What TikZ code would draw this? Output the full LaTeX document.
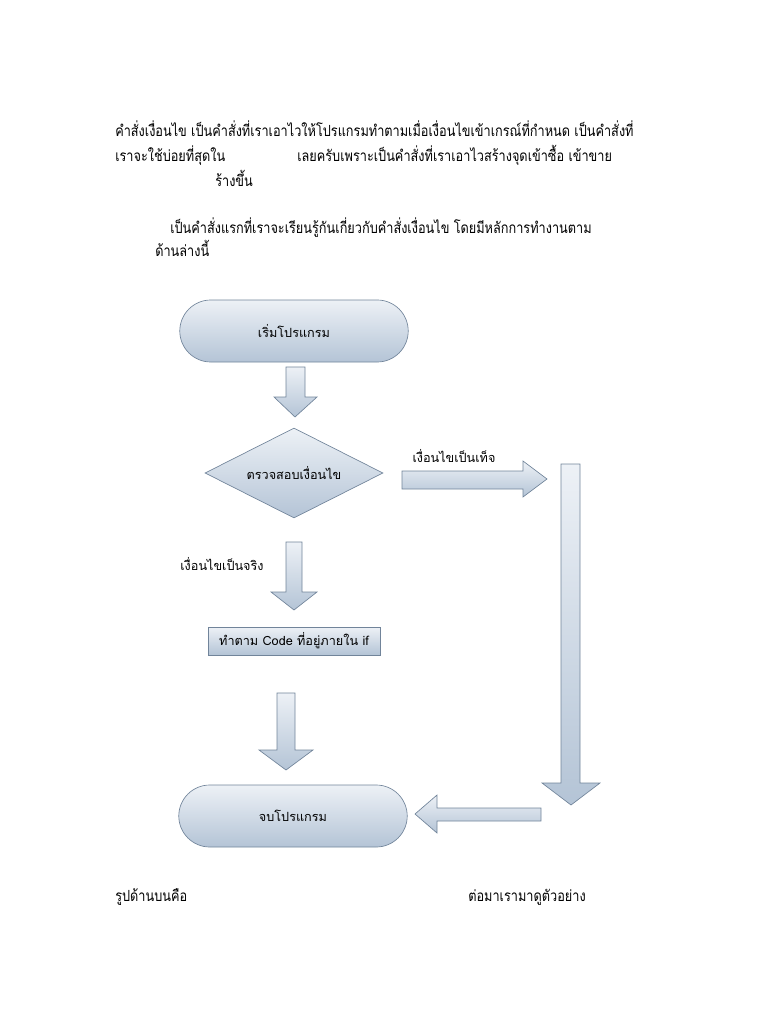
\documentclass[tikz,border=0pt]{standalone}
\usepackage{fontspec}
\setmainfont{Liberation Serif}
\newfontfamily\thaifont[Script=Thai]{Loma}
\newfontfamily\thaibody[Script=Thai, FakeStretch=0.83]{Loma}
\usetikzlibrary{shapes.geometric,shapes.misc}
\definecolor{boxtop}{HTML}{EDF1F6}
\definecolor{boxbot}{HTML}{B4C4D6}
\definecolor{boxline}{HTML}{71849A}
\begin{document}
\begin{tikzpicture}[x=0.75pt, y=-0.75pt,
    bodytext/.style={anchor=base west, inner sep=0pt, font=\thaibody\fontsize{11.5}{14}\selectfont},
    labeltext/.style={font=\thaifont\fontsize{9.5}{11}\selectfont},
    shaded box/.style={draw=boxline, top color=boxtop, bottom color=boxbot, line width=0.5pt},
    terminal/.style={shaded box, rounded rectangle, minimum width=178pt, minimum height=46.5pt, labeltext},
    decision/.style={shaded box, diamond, aspect=2, minimum width=133.5pt, minimum height=67.5pt, inner sep=0pt, labeltext},
    process/.style={shaded box, rectangle, minimum width=129pt, minimum height=21pt, inner sep=0pt, labeltext},
    blockarrow/.style={shaded box, line join=miter}]
        % Page size
        \useasboundingbox (0,0) rectangle (768,1024);

        % Text above the chart
        \node[bodytext] (line1) at (115,136) {คำสั่งเงื่อนไข เป็นคำสั่งที่เราเอาไวให้โปรแกรมทำตามเมื่อเงื่อนไขเข้าเกรณ์ที่กำหนด เป็นคำสั่งที่};
        \node[bodytext] (line2a) at (115,161) {เราจะใช้บ่อยที่สุดใน};
        \node[bodytext] (line2b) at (297,161) {เลยครับเพราะเป็นคำสั่งที่เราเอาไวสร้างจุดเข้าซื้อ เข้าขาย};
        \node[bodytext] (line3) at (215,186) {ร้างขึ้น};
        \node[bodytext] (line4) at (170,233) {เป็นคำสั่งแรกที่เราจะเรียนรู้กันเกี่ยวกับคำสั่งเงื่อนไข โดยมีหลักการทำงานตาม};
        \node[bodytext] (line5) at (155,256) {ด้านล่างนี้};

        % Flowchart shapes
        \node[terminal] (start) at (294,331) {เริ่มโปรแกรม};
        \node[decision] (check) at (294,473) {ตรวจสอบเงื่อนไข};
        \node[process] (action) at (294,641) {ทำตาม Code ที่อยู่ภายใน if};
        \node[terminal] (finish) at (293,816) {จบโปรแกรม};

        % Branch labels
        \node[labeltext] (falselabel) at (454,456) {เงื่อนไขเป็นเท็จ};
        \node[labeltext] (truelabel) at (222,564) {เงื่อนไขเป็นจริง};

        % Block arrows (down)
        \draw[blockarrow] (286,367) -- (305,367) -- (305,397) -- (317,397) -- (295,417) -- (274,397) -- (286,397) -- cycle;
        \draw[blockarrow] (286,542) -- (302,542) -- (302,592) -- (317,592) -- (294,610) -- (271,592) -- (286,592) -- cycle;
        \draw[blockarrow] (277,693) -- (295,693) -- (295,750) -- (313,750) -- (286,770) -- (259,750) -- (277,750) -- cycle;

        % Block arrow to the right (false branch)
        \draw[blockarrow] (402,471) -- (523,471) -- (523,461) -- (547,479) -- (523,497) -- (523,489) -- (402,489) -- cycle;

        % Long block arrow down the right side
        \draw[blockarrow] (561,464) -- (580,464) -- (580,783) -- (600,783) -- (571,805) -- (542,783) -- (561,783) -- cycle;

        % Block arrow to the left, into the end
        \draw[blockarrow] (541,808) -- (541,821) -- (437,821) -- (437,833) -- (415,814) -- (437,795) -- (437,808) -- cycle;

        % Text below the chart
        \node[bodytext] (caption) at (115,901) {รูปด้านบนคือ};
        \node[bodytext] (nextpart) at (468,901) {ต่อมาเรามาดูตัวอย่าง};
\end{tikzpicture}
\end{document}
